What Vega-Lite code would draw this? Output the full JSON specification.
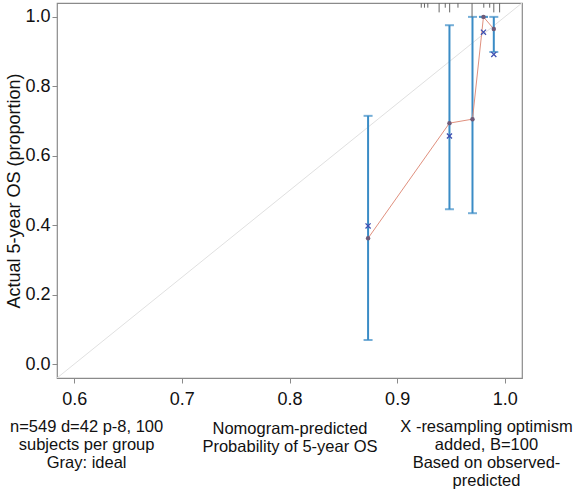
{
  "$schema": "https://vega.github.io/schema/vega-lite/v6.json",
  "width": 465,
  "height": 375,
  "autosize": {"type": "none"},
  "padding": {"left": 57, "top": 3, "right": 54, "bottom": 112},
  "config": {
    "font": "Liberation Sans",
    "view": {"stroke": "#8a8a8a", "strokeWidth": 1.2},
    "axis": {"grid": false, "domain": false, "tickColor": "#8a8a8a", "tickSize": 5, "labelColor": "#111", "titleColor": "#111", "labelFontSize": 18, "titleFontSize": 18, "titleFontWeight": "normal"}
  },
  "datasets": {
    "groups": [
      {"pred": 0.873, "obs": 0.3625, "corrected": 0.398, "lo": 0.0695, "hi": 0.715},
      {"pred": 0.9486, "obs": 0.694, "corrected": 0.657, "lo": 0.446, "hi": 0.976},
      {"pred": 0.97, "obs": 0.7055, "corrected": null, "lo": 0.4346, "hi": 1.0},
      {"pred": 0.9802, "obs": 1.0, "corrected": 0.956, "lo": 1.0, "hi": 1.0},
      {"pred": 0.9898, "obs": 0.965, "corrected": 0.892, "lo": 0.899, "hi": 1.0}
    ],
    "ideal": [
      {"p": 0.584, "a": -0.04},
      {"p": 1.016, "a": 1.04}
    ],
    "spikes": [
      {"pred": 0.9224, "freq": 1},
      {"pred": 0.9254, "freq": 1},
      {"pred": 0.9285, "freq": 1},
      {"pred": 0.939, "freq": 2},
      {"pred": 0.9447, "freq": 1},
      {"pred": 0.9488, "freq": 2},
      {"pred": 0.9565, "freq": 1},
      {"pred": 0.9696, "freq": 3},
      {"pred": 0.9805, "freq": 1},
      {"pred": 0.986, "freq": 1},
      {"pred": 0.9898, "freq": 2},
      {"pred": 0.9952, "freq": 2}
    ],
    "notes": [{"k": 1}]
  },
  "layer": [
    {
      "layer": [
        {
          "data": {"name": "ideal"},
          "mark": {"type": "line", "color": "#e0e0e0", "strokeWidth": 1, "clip": true},
          "encoding": {
            "x": {"field": "p", "type": "quantitative", "scale": {"domain": [0.584, 1.016], "nice": false, "zero": false},
              "axis": {"values": [0.6, 0.7, 0.8, 0.9, 1.0], "format": ".1f", "labelPadding": 7, "titlePadding": 12, "titleLineHeight": 18, "titleFontSize": 16.5,
                "title": ["Nomogram-predicted", "Probability of 5-year OS"]}},
            "y": {"field": "a", "type": "quantitative", "scale": {"domain": [-0.04, 1.04], "nice": false, "zero": false},
              "axis": {"values": [0, 0.2, 0.4, 0.6, 0.8, 1.0], "format": ".1f", "labelPadding": 2, "titlePadding": 1,
                "title": "Actual 5-year OS (proportion)"}}
          }
        },
        {
          "data": {"name": "groups"},
          "mark": {"type": "rule", "color": "#3a8cc6", "strokeWidth": 2},
          "encoding": {
            "x": {"field": "pred", "type": "quantitative"},
            "y": {"field": "lo", "type": "quantitative"},
            "y2": {"field": "hi"}
          }
        },
        {
          "data": {"name": "groups"},
          "mark": {"type": "tick", "color": "#3a8cc6", "orient": "horizontal", "size": 9, "thickness": 2},
          "encoding": {
            "x": {"field": "pred", "type": "quantitative"},
            "y": {"field": "lo", "type": "quantitative"}
          }
        },
        {
          "data": {"name": "groups"},
          "mark": {"type": "tick", "color": "#3a8cc6", "orient": "horizontal", "size": 9, "thickness": 2},
          "encoding": {
            "x": {"field": "pred", "type": "quantitative"},
            "y": {"field": "hi", "type": "quantitative"}
          }
        },
        {
          "data": {"name": "groups"},
          "mark": {"type": "line", "color": "#e0907e", "strokeWidth": 1},
          "encoding": {
            "x": {"field": "pred", "type": "quantitative"},
            "y": {"field": "obs", "type": "quantitative"}
          }
        },
        {
          "data": {"name": "groups"},
          "mark": {"type": "point", "filled": true, "color": "#6e5a78", "size": 20, "opacity": 1},
          "encoding": {
            "x": {"field": "pred", "type": "quantitative"},
            "y": {"field": "obs", "type": "quantitative"}
          }
        },
        {
          "data": {"name": "groups"},
          "transform": [{"filter": "datum.corrected != null"}],
          "mark": {"type": "point", "shape": "M-1,-1L1,1M-1,1L1,-1", "filled": false, "color": "#3f4fb0", "size": 26, "strokeWidth": 1.3, "opacity": 1},
          "encoding": {
            "x": {"field": "pred", "type": "quantitative"},
            "y": {"field": "corrected", "type": "quantitative"}
          }
        },
        {
          "data": {"name": "notes"},
          "mark": {"type": "text", "fontSize": 16.5, "lineHeight": 18, "align": "center", "baseline": "top", "color": "#111"},
          "encoding": {
            "x": {"datum": 0.6115, "type": "quantitative"},
            "y": {"datum": -0.159, "type": "quantitative"},
            "text": {"value": ["n=549 d=42 p-8, 100", "subjects per group", "Gray: ideal"]}
          }
        },
        {
          "data": {"name": "notes"},
          "mark": {"type": "text", "fontSize": 16.5, "lineHeight": 18, "align": "center", "baseline": "top", "color": "#111"},
          "encoding": {
            "x": {"datum": 0.983, "type": "quantitative"},
            "y": {"datum": -0.159, "type": "quantitative"},
            "text": {"value": ["X -resampling optimism", "added, B=100", "Based on observed-", "predicted"]}
          }
        }
      ]
    },
    {
      "data": {"name": "spikes"},
      "mark": {"type": "rule", "color": "#666", "strokeWidth": 1},
      "encoding": {
        "x": {"field": "pred", "type": "quantitative"},
        "y": {"field": "freq", "type": "quantitative", "scale": {"domain": [0, 80], "reverse": true, "nice": false, "zero": true}, "axis": null},
        "y2": {"datum": 0}
      }
    }
  ],
  "resolve": {"scale": {"y": "independent"}}
}
